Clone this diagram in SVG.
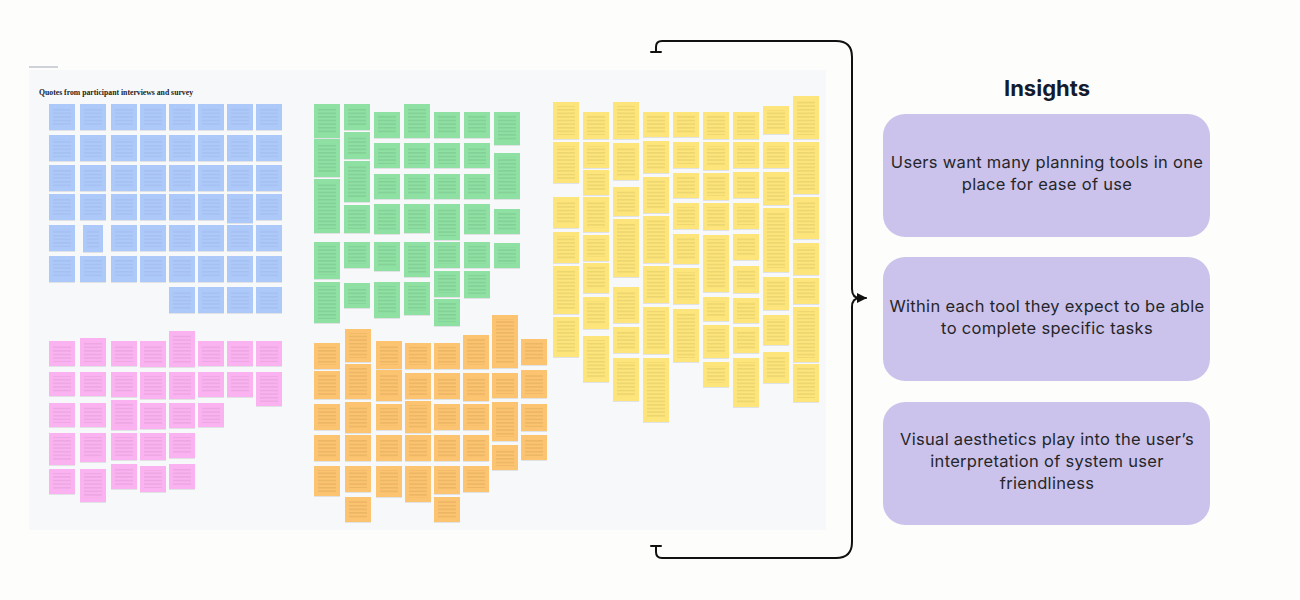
<svg xmlns="http://www.w3.org/2000/svg" width="1300" height="600" viewBox="0 0 1300 600">
<defs>
<pattern id="pb" width="8" height="3.6" patternUnits="userSpaceOnUse"><rect width="8" height="3.6" fill="#adc9fa"/><rect y="1.4" width="8" height="0.7" fill="#3c4a66" opacity=".16"/></pattern>
<pattern id="pp" width="8" height="3.6" patternUnits="userSpaceOnUse"><rect width="8" height="3.6" fill="#fab3f0"/><rect y="1.4" width="8" height="0.7" fill="#5a2a55" opacity=".2"/></pattern>
<pattern id="pg" width="8" height="3.6" patternUnits="userSpaceOnUse"><rect width="8" height="3.6" fill="#8fe0a3"/><rect y="1.4" width="8" height="0.7" fill="#1f4a2a" opacity=".24"/></pattern>
<pattern id="po" width="8" height="3.6" patternUnits="userSpaceOnUse"><rect width="8" height="3.6" fill="#fcc46f"/><rect y="1.4" width="8" height="0.7" fill="#5a3a10" opacity=".24"/></pattern>
<pattern id="py" width="8" height="3.6" patternUnits="userSpaceOnUse"><rect width="8" height="3.6" fill="#fde57b"/><rect y="1.4" width="8" height="0.7" fill="#5a4d10" opacity=".24"/></pattern>
<filter id="sh" x="-5%" y="-5%" width="110%" height="110%"><feDropShadow dx="0" dy="0.6" stdDeviation="0.4" flood-color="#000" flood-opacity="0.15"/></filter>
<marker id="ah" viewBox="0 0 10 10" refX="9" refY="5" markerWidth="5" markerHeight="5" orient="auto" markerUnits="strokeWidth"><path d="M0,0 L10,5 L0,10 z" fill="#111"/></marker>
</defs>
<style>
.b{fill:url(#pb);stroke:#adc9fa;stroke-width:4}
.p{fill:url(#pp);stroke:#fab3f0;stroke-width:4}
.g{fill:url(#pg);stroke:#8fe0a3;stroke-width:4}
.o{fill:url(#po);stroke:#fcc46f;stroke-width:4}
.y{fill:url(#py);stroke:#fde57b;stroke-width:4}
.card{fill:#cbc3eb}
.ins{font-family:Inter,"Noto Sans",sans-serif;font-size:16.5px;fill:#26262a;text-anchor:middle;letter-spacing:0.3px}
.conn{fill:none;stroke:#111;stroke-width:2;stroke-linecap:round;stroke-linejoin:round}
</style>
<rect width="1300" height="600" fill="#fdfdfb"/>

<g id="board">
<rect x="29" y="70" width="797" height="460" fill="#f7f8fa"/>
<rect x="29" y="66" width="29" height="2" fill="#cfd2d8"/>
<text x="39" y="95" font-family="Liberation Serif,serif" font-weight="700" font-size="8.2" fill="#222" textLength="154" lengthAdjust="spacingAndGlyphs">Quotes from participant interviews and survey</text>
</g>

<g id="blue-quotes" filter="url(#sh)">
<rect class="b" x="51" y="106" width="22" height="22"/><rect class="b" x="82" y="106" width="22" height="22"/><rect class="b" x="113" y="106" width="22" height="22"/><rect class="b" x="142" y="106" width="22" height="22"/><rect class="b" x="171" y="106" width="22" height="22"/><rect class="b" x="200" y="106" width="22" height="22"/><rect class="b" x="229" y="106" width="22" height="22"/><rect class="b" x="258" y="106" width="22" height="22"/>
<rect class="b" x="51" y="137" width="22" height="22"/><rect class="b" x="82" y="137" width="22" height="22"/><rect class="b" x="113" y="137" width="22" height="22"/><rect class="b" x="142" y="137" width="22" height="22"/><rect class="b" x="171" y="137" width="22" height="22"/><rect class="b" x="200" y="137" width="22" height="22"/><rect class="b" x="229" y="137" width="22" height="22"/><rect class="b" x="258" y="137" width="22" height="22"/>
<rect class="b" x="51" y="167" width="22" height="22"/><rect class="b" x="82" y="167" width="22" height="22"/><rect class="b" x="113" y="167" width="22" height="22"/><rect class="b" x="142" y="167" width="22" height="22"/><rect class="b" x="171" y="167" width="22" height="22"/><rect class="b" x="200" y="167" width="22" height="22"/><rect class="b" x="229" y="167" width="22" height="22"/><rect class="b" x="258" y="167" width="22" height="22"/>
<rect class="b" x="51" y="196" width="22" height="22"/><rect class="b" x="82" y="196" width="22" height="22"/><rect class="b" x="113" y="196" width="22" height="22"/><rect class="b" x="142" y="196" width="22" height="22"/><rect class="b" x="171" y="196" width="22" height="22"/><rect class="b" x="200" y="196" width="22" height="22"/><rect class="b" x="229" y="196" width="22" height="25"/><rect class="b" x="258" y="196" width="22" height="22"/>
<rect class="b" x="51" y="227" width="22" height="22"/><rect class="b" x="85" y="227" width="16" height="23"/><rect class="b" x="113" y="227" width="22" height="22"/><rect class="b" x="142" y="227" width="22" height="22"/><rect class="b" x="171" y="227" width="22" height="22"/><rect class="b" x="200" y="227" width="22" height="22"/><rect class="b" x="229" y="227" width="22" height="22"/><rect class="b" x="258" y="227" width="22" height="22"/>
<rect class="b" x="51" y="258" width="22" height="22"/><rect class="b" x="82" y="258" width="22" height="22"/><rect class="b" x="113" y="258" width="22" height="22"/><rect class="b" x="142" y="258" width="22" height="22"/><rect class="b" x="171" y="258" width="22" height="22"/><rect class="b" x="200" y="258" width="22" height="22"/><rect class="b" x="229" y="258" width="22" height="22"/><rect class="b" x="258" y="258" width="22" height="22"/>
<rect class="b" x="171" y="289" width="22" height="22"/><rect class="b" x="200" y="289" width="22" height="22"/><rect class="b" x="229" y="289" width="22" height="22"/><rect class="b" x="258" y="289" width="22" height="22"/>
</g>

<g id="pink-quotes" filter="url(#sh)">
<rect class="p" x="51" y="343" width="22" height="21"/><rect class="p" x="51" y="374" width="22" height="20"/><rect class="p" x="51" y="405" width="22" height="20"/><rect class="p" x="51" y="435" width="22" height="28"/><rect class="p" x="51" y="471" width="22" height="21"/>
<rect class="p" x="82" y="340" width="22" height="24"/><rect class="p" x="82" y="374" width="22" height="20"/><rect class="p" x="82" y="405" width="22" height="20"/><rect class="p" x="82" y="435" width="22" height="25"/><rect class="p" x="82" y="471" width="22" height="29"/>
<rect class="p" x="113" y="343" width="22" height="21"/><rect class="p" x="113" y="374" width="22" height="21"/><rect class="p" x="113" y="402" width="22" height="26"/><rect class="p" x="113" y="435" width="22" height="23"/><rect class="p" x="113" y="466" width="22" height="21"/>
<rect class="p" x="142" y="343" width="22" height="22"/><rect class="p" x="142" y="374" width="22" height="23"/><rect class="p" x="142" y="405" width="22" height="22"/><rect class="p" x="142" y="435" width="22" height="23"/><rect class="p" x="142" y="468" width="22" height="22"/>
<rect class="p" x="171" y="333" width="22" height="32"/><rect class="p" x="171" y="374" width="22" height="23"/><rect class="p" x="171" y="405" width="22" height="21"/><rect class="p" x="171" y="435" width="22" height="21"/><rect class="p" x="171" y="466" width="22" height="21"/>
<rect class="p" x="200" y="343" width="22" height="21"/><rect class="p" x="200" y="374" width="22" height="21"/><rect class="p" x="200" y="405" width="22" height="20"/>
<rect class="p" x="229" y="343" width="22" height="21"/><rect class="p" x="229" y="374" width="22" height="21"/>
<rect class="p" x="258" y="343" width="22" height="21"/><rect class="p" x="258" y="374" width="22" height="30"/>
</g>

<g id="green-quotes" filter="url(#sh)">
<rect class="g" x="316" y="106" width="22" height="30"/><rect class="g" x="316" y="141" width="22" height="34"/><rect class="g" x="316" y="181" width="22" height="50"/><rect class="g" x="316" y="244" width="22" height="33"/><rect class="g" x="316" y="284" width="22" height="37"/>
<rect class="g" x="346" y="106" width="22" height="22"/><rect class="g" x="346" y="134" width="22" height="23"/><rect class="g" x="346" y="163" width="22" height="37"/><rect class="g" x="346" y="207" width="22" height="24"/><rect class="g" x="346" y="244" width="22" height="22"/><rect class="g" x="346" y="285" width="22" height="21"/>
<rect class="g" x="376" y="114" width="22" height="22"/><rect class="g" x="376" y="145" width="22" height="21"/><rect class="g" x="376" y="176" width="22" height="21"/><rect class="g" x="376" y="206" width="22" height="26"/><rect class="g" x="376" y="244" width="22" height="25"/><rect class="g" x="376" y="284" width="22" height="32"/>
<rect class="g" x="406" y="106" width="22" height="30"/><rect class="g" x="406" y="145" width="22" height="21"/><rect class="g" x="406" y="176" width="22" height="21"/><rect class="g" x="406" y="206" width="22" height="25"/><rect class="g" x="406" y="244" width="22" height="31"/><rect class="g" x="406" y="284" width="22" height="29"/>
<rect class="g" x="436" y="114" width="22" height="22"/><rect class="g" x="436" y="145" width="22" height="21"/><rect class="g" x="436" y="176" width="22" height="21"/><rect class="g" x="436" y="206" width="22" height="32"/><rect class="g" x="436" y="244" width="22" height="22"/><rect class="g" x="436" y="273" width="22" height="22"/><rect class="g" x="436" y="301" width="22" height="23"/>
<rect class="g" x="466" y="114" width="22" height="22"/><rect class="g" x="466" y="145" width="22" height="21"/><rect class="g" x="466" y="176" width="22" height="21"/><rect class="g" x="466" y="206" width="22" height="26"/><rect class="g" x="466" y="244" width="22" height="22"/><rect class="g" x="466" y="273" width="22" height="23"/>
<rect class="g" x="496" y="114" width="22" height="29"/><rect class="g" x="496" y="155" width="22" height="42"/><rect class="g" x="496" y="211" width="22" height="21"/><rect class="g" x="496" y="245" width="22" height="21"/>
</g>

<g id="orange-quotes" filter="url(#sh)">
<rect class="o" x="316" y="345" width="22" height="22"/><rect class="o" x="316" y="373" width="22" height="24"/><rect class="o" x="316" y="406" width="22" height="22"/><rect class="o" x="316" y="437" width="22" height="22"/><rect class="o" x="316" y="468" width="22" height="26"/>
<rect class="o" x="347" y="331" width="22" height="29"/><rect class="o" x="347" y="366" width="22" height="31"/><rect class="o" x="347" y="404" width="22" height="27"/><rect class="o" x="347" y="437" width="22" height="22"/><rect class="o" x="347" y="468" width="22" height="22"/><rect class="o" x="347" y="499" width="22" height="21"/>
<rect class="o" x="378" y="343" width="22" height="24"/><rect class="o" x="378" y="372" width="22" height="27"/><rect class="o" x="378" y="406" width="22" height="22"/><rect class="o" x="378" y="437" width="22" height="22"/><rect class="o" x="378" y="468" width="22" height="27"/>
<rect class="o" x="407" y="345" width="22" height="22"/><rect class="o" x="407" y="375" width="22" height="22"/><rect class="o" x="407" y="403" width="22" height="28"/><rect class="o" x="407" y="437" width="22" height="22"/><rect class="o" x="407" y="468" width="22" height="32"/>
<rect class="o" x="436" y="345" width="22" height="22"/><rect class="o" x="436" y="375" width="22" height="22"/><rect class="o" x="436" y="406" width="22" height="22"/><rect class="o" x="436" y="437" width="22" height="22"/><rect class="o" x="436" y="468" width="22" height="24"/><rect class="o" x="436" y="499" width="22" height="21"/>
<rect class="o" x="465" y="337" width="22" height="30"/><rect class="o" x="465" y="375" width="22" height="24"/><rect class="o" x="465" y="406" width="22" height="22"/><rect class="o" x="465" y="437" width="22" height="22"/><rect class="o" x="465" y="468" width="22" height="22"/>
<rect class="o" x="494" y="317" width="22" height="49"/><rect class="o" x="494" y="375" width="22" height="21"/><rect class="o" x="494" y="404" width="22" height="35"/><rect class="o" x="494" y="447" width="22" height="21"/>
<rect class="o" x="523" y="341" width="22" height="22"/><rect class="o" x="523" y="372" width="22" height="24"/><rect class="o" x="523" y="406" width="22" height="23"/><rect class="o" x="523" y="437" width="22" height="21"/>
</g>

<g id="yellow-quotes" filter="url(#sh)">
<rect class="y" x="555" y="104" width="22" height="33"/><rect class="y" x="555" y="144" width="22" height="37"/><rect class="y" x="555" y="199" width="22" height="27"/><rect class="y" x="555" y="234" width="22" height="27"/><rect class="y" x="555" y="268" width="22" height="44"/><rect class="y" x="555" y="319" width="22" height="36"/>
<rect class="y" x="585" y="114" width="22" height="23"/><rect class="y" x="585" y="144" width="22" height="22"/><rect class="y" x="585" y="172" width="22" height="21"/><rect class="y" x="585" y="199" width="22" height="31"/><rect class="y" x="585" y="237" width="22" height="22"/><rect class="y" x="585" y="265" width="22" height="26"/><rect class="y" x="585" y="299" width="22" height="28"/><rect class="y" x="585" y="338" width="22" height="42"/>
<rect class="y" x="615" y="104" width="22" height="33"/><rect class="y" x="615" y="145" width="22" height="33"/><rect class="y" x="615" y="189" width="22" height="25"/><rect class="y" x="615" y="221" width="22" height="54"/><rect class="y" x="615" y="289" width="22" height="32"/><rect class="y" x="615" y="329" width="22" height="22"/><rect class="y" x="615" y="360" width="22" height="39"/>
<rect class="y" x="645" y="114" width="22" height="21"/><rect class="y" x="645" y="143" width="22" height="28"/><rect class="y" x="645" y="179" width="22" height="32"/><rect class="y" x="645" y="218" width="22" height="43"/><rect class="y" x="645" y="268" width="22" height="33"/><rect class="y" x="645" y="309" width="22" height="43"/><rect class="y" x="645" y="360" width="22" height="60"/>
<rect class="y" x="675" y="114" width="22" height="21"/><rect class="y" x="675" y="144" width="22" height="22"/><rect class="y" x="675" y="175" width="22" height="21"/><rect class="y" x="675" y="205" width="22" height="22"/><rect class="y" x="675" y="236" width="22" height="26"/><rect class="y" x="675" y="270" width="22" height="32"/><rect class="y" x="675" y="311" width="22" height="49"/>
<rect class="y" x="705" y="114" width="22" height="23"/><rect class="y" x="705" y="144" width="22" height="24"/><rect class="y" x="705" y="175" width="22" height="23"/><rect class="y" x="705" y="205" width="22" height="23"/><rect class="y" x="705" y="237" width="22" height="53"/><rect class="y" x="705" y="299" width="22" height="20"/><rect class="y" x="705" y="327" width="22" height="29"/><rect class="y" x="705" y="364" width="22" height="21"/>
<rect class="y" x="735" y="114" width="22" height="23"/><rect class="y" x="735" y="144" width="22" height="22"/><rect class="y" x="735" y="174" width="22" height="22"/><rect class="y" x="735" y="205" width="22" height="22"/><rect class="y" x="735" y="236" width="22" height="22"/><rect class="y" x="735" y="268" width="22" height="23"/><rect class="y" x="735" y="300" width="22" height="21"/><rect class="y" x="735" y="329" width="22" height="22"/><rect class="y" x="735" y="360" width="22" height="45"/>
<rect class="y" x="765" y="108" width="22" height="24"/><rect class="y" x="765" y="144" width="22" height="22"/><rect class="y" x="765" y="174" width="22" height="29"/><rect class="y" x="765" y="210" width="22" height="60"/><rect class="y" x="765" y="279" width="22" height="29"/><rect class="y" x="765" y="317" width="22" height="26"/><rect class="y" x="765" y="354" width="22" height="27"/>
<rect class="y" x="795" y="98" width="22" height="39"/><rect class="y" x="795" y="144" width="22" height="48"/><rect class="y" x="795" y="199" width="22" height="38"/><rect class="y" x="795" y="245" width="22" height="28"/><rect class="y" x="795" y="280" width="22" height="22"/><rect class="y" x="795" y="309" width="22" height="51"/><rect class="y" x="795" y="366" width="22" height="34"/>
</g>

<g id="connectors">
<path class="conn" d="M656,52 V47 Q656,41 662,41 H836 Q852,41 852,57 V289 Q852,298 860,298 H866" marker-end="url(#ah)"/>
<path class="conn" d="M852,307 Q852,298 860,298"/>
<path class="conn" d="M852,307 V542 Q852,558 836,558 H662 Q656,558 656,552 V546"/>
<path class="conn" d="M651,52 H661 M651,546 H661"/>
</g>

<g id="insights-title">
<text x="1047" y="96" font-family="Inter,'Noto Sans',sans-serif" font-weight="700" font-size="22" fill="#141b2d" text-anchor="middle">Insights</text>
</g>

<g id="insight-1">
<rect class="card" x="883" y="114" width="327" height="123" rx="22"/>
<text class="ins" x="1047" y="168">Users want many planning tools in one</text>
<text class="ins" x="1047" y="190">place for ease of use</text>
</g>
<g id="insight-2">
<rect class="card" x="883" y="257" width="327" height="124" rx="22"/>
<text class="ins" x="1047" y="312">Within each tool they expect to be able</text>
<text class="ins" x="1047" y="334">to complete specific tasks</text>
</g>
<g id="insight-3">
<rect class="card" x="883" y="402" width="327" height="123" rx="22"/>
<text class="ins" x="1047" y="445">Visual aesthetics play into the user’s</text>
<text class="ins" x="1047" y="467">interpretation of system user</text>
<text class="ins" x="1047" y="489">friendliness</text>
</g>
</svg>
